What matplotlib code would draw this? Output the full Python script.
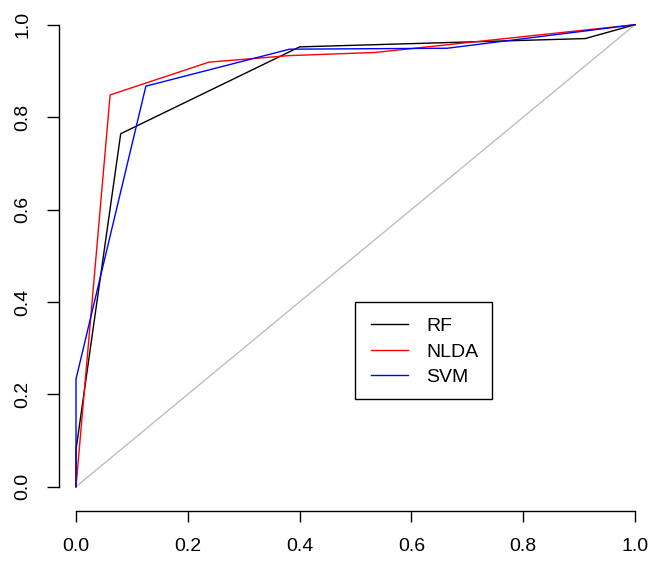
import matplotlib.pyplot as plt
from matplotlib.patches import Rectangle

plt.rcParams['font.family'] = ['Liberation Sans', 'DejaVu Sans']

# ROC curves (false positive rate, true positive rate)
rf_fpr = [0.0, 0.0, 0.080, 0.400, 0.911, 1.0]
rf_tpr = [0.0, 0.080, 0.764, 0.952, 0.970, 1.0]

nlda_fpr = [0.0, 0.061, 0.238, 0.380, 0.536, 1.0]
nlda_tpr = [0.0, 0.848, 0.919, 0.933, 0.940, 1.0]

svm_fpr = [0.0, 0.0, 0.125, 0.382, 0.664, 1.0]
svm_tpr = [0.0, 0.233, 0.867, 0.947, 0.949, 1.0]

labels = ["RF", "NLDA", "SVM"]
colors = ["black", "red", "blue"]
ticks = [0.0, 0.2, 0.4, 0.6, 0.8, 1.0]

W, H = 654, 564
fig = plt.figure(figsize=(W / 100, H / 100), dpi=100)

# axes box in pixels: left spine at x=59, bottom spine at y=510.7
x0px, x1px = 76.0, 635.0
y0px, y1px = 486.7, 24.7
left_px, right_px = 59.0, 652.0
bottom_px, top_px = 510.7, 1.0
ax = fig.add_axes([left_px / W, 1 - bottom_px / H,
                   (right_px - left_px) / W, (bottom_px - top_px) / H])
sx = x1px - x0px
sy = y0px - y1px
ax.set_xlim((left_px - x0px) / sx, 1 + (right_px - x1px) / sx)
ax.set_ylim(-(bottom_px - y0px) / sy, 1 + (y1px - top_px) / sy)

ax.plot([0, 1], [0, 1], color="#BEBEBE", lw=1.0)
lines = []
for fpr, tpr, lab, c in zip([rf_fpr, nlda_fpr, svm_fpr],
                            [rf_tpr, nlda_tpr, svm_tpr], labels, colors):
    ln, = ax.plot(fpr, tpr, color=c, lw=1.0, label=lab)
    lines.append(ln)

for s in ["top", "right"]:
    ax.spines[s].set_visible(False)
ax.spines["left"].set_bounds(0, 1)
ax.spines["bottom"].set_bounds(0, 1)
ax.spines["left"].set_linewidth(1.0)
ax.spines["bottom"].set_linewidth(1.0)
ax.set_xticks(ticks)
ax.set_yticks(ticks)
ax.set_xticklabels([f"{t:.1f}" for t in ticks])
ax.set_yticklabels([f"{t:.1f}" for t in ticks], rotation=90, va="center")
ax.tick_params(axis="x", length=8, width=1.0, pad=12, labelsize=14)
ax.tick_params(axis="y", length=9, width=1.0, pad=11, labelsize=14)

# legend (frame drawn separately to match box)
leg = ax.legend(handles=lines, loc="upper left", frameon=False,
                bbox_to_anchor=(355 / W, 1 - 302 / H), bbox_transform=fig.transFigure,
                fontsize=14, handlelength=1.95, handletextpad=0.9,
                labelspacing=0.4, borderpad=0.8, borderaxespad=0)
fig.patches.append(Rectangle((355 / W, 1 - 399 / H), (492 - 355) / W, (399 - 302) / H,
                             transform=fig.transFigure, fill=False,
                             edgecolor="black", lw=1.0))

fig.savefig("out.png", dpi=100)
